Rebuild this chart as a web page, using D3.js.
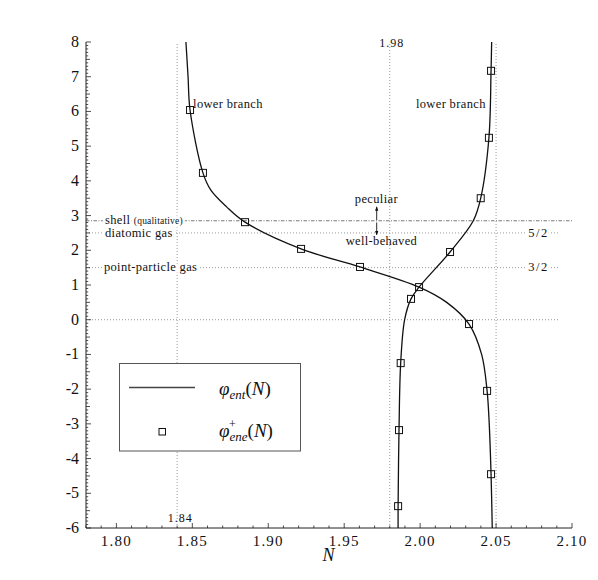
<!DOCTYPE html>
<html><head><meta charset="utf-8">
<script src="https://cdn.jsdelivr.net/npm/d3@7"></script>
<style>
body{margin:0;background:#fff;}
svg{display:block;}
</style></head>
<body><svg id="c" width="598" height="580"></svg>
<script>
// ---- data ----
const xDomain = [1.78, 2.10];
const yDomain = [-6, 8];
const xTicks = [1.80, 1.85, 1.90, 1.95, 2.00, 2.05, 2.10];
const yTicks = [-6, -5, -4, -3, -2, -1, 0, 1, 2, 3, 4, 5, 6, 7, 8];

// phi_ent(N), branch through the upper-left
const entA_N   = [1.8458, 1.8472, 1.8485, 1.8570, 1.8621, 1.8726, 1.8847, 1.9216, 1.9604, 1.9993, 2.0175, 2.0322, 2.0405, 2.0441, 2.0455, 2.0467, 2.0475];
const entA_phi = [8, 7, 6.04, 4.23, 3.74, 3.25, 2.81, 2.04, 1.52, 0.94, 0.50, -0.125, -1.0, -2.05, -3.0, -4.45, -6];
// phi_ent(N), branch through the lower-middle
const entB_N   = [1.9855, 1.9855, 1.9861, 1.9872, 1.9898, 1.9940, 1.9993, 2.0197, 2.0350, 2.0399, 2.0453, 2.0467, 2.0471];
const entB_phi = [-6, -5.37, -3.18, -1.25, 0, 0.60, 0.94, 1.95, 2.85, 3.50, 5.24, 7.17, 8];

// phi_ene^+(N) markers
const ene_N   = [1.8485, 1.8570, 1.8847, 1.9216, 1.9604, 1.9993, 2.0322, 2.0441, 2.0467, 1.9855, 1.9861, 1.9872, 1.9940, 2.0197, 2.0399, 2.0453, 2.0467];
const ene_phi = [6.04, 4.23, 2.81, 2.04, 1.52, 0.94, -0.125, -2.05, -4.45, -5.37, -3.18, -1.25, 0.60, 1.95, 3.50, 5.24, 7.17];

// reference lines
const vRefN = [1.84, 1.98, 2.05];
const hRef = [
  {phi: 0,    n0: 1.78, n1: 2.0915, style: "dot"},
  {phi: 1.5,  n0: 1.78, n1: 2.0920, style: "dot"},
  {phi: 2.5,  n0: 1.78, n1: 2.0920, style: "dot"},
  {phi: 2.85, n0: 1.78, n1: 2.10,   style: "dashdot"}
];
const notes = [
  {n: 1.8505, phi: 6.1,  text: "lower branch", anchor: "start"},
  {n: 2.0432, phi: 6.1,  text: "lower branch", anchor: "end"},
  {n: 1.9712, phi: 3.37, text: "peculiar", anchor: "middle"},
  {n: 1.9745, phi: 2.14, text: "well-behaved", anchor: "middle"},
  {n: 1.7925, phi: 2.50, text: "diatomic gas", anchor: "start", mid: true},
  {n: 1.7918, phi: 1.50, text: "point-particle gas", anchor: "start", mid: true},
  {n: 2.0780, phi: 2.50, text: "5/2", anchor: "middle", mid: true},
  {n: 2.0780, phi: 1.50, text: "3/2", anchor: "middle", mid: true}
];

// ---- layout ----
const FF = "'Liberation Serif','DejaVu Serif',serif";
const svg = d3.select("#c");
const x = d3.scaleLinear().domain(xDomain).range([86, 572]);
const y = d3.scaleLinear().domain(yDomain).range([528, 42]);
const txt = (sel) => sel.append("text").style("font-family", FF).attr("fill", "#111");

const gRef = svg.append("g");
vRefN.forEach(n => {
  gRef.append("line").attr("x1", x(n)).attr("x2", x(n)).attr("y1", y(-6)).attr("y2", y(8))
    .attr("stroke", "#999").attr("stroke-width", 1).attr("stroke-dasharray", "1,2");
});
hRef.forEach(h => {
  gRef.append("line").attr("x1", x(h.n0)).attr("x2", x(h.n1)).attr("y1", y(h.phi)).attr("y2", y(h.phi))
    .attr("stroke", h.style === "dot" ? "#999" : "#777").attr("stroke-width", 1)
    .attr("stroke-dasharray", h.style === "dot" ? "1,2" : "3.5,1.5,1,1.5");
});

// axes
const minorY = d3.range(-60, 81).map(v => v / 10);
const minorX = d3.range(178, 211).map(v => v / 100);
const gAx = svg.append("g").attr("stroke", "#222").attr("stroke-width", 1);
gAx.append("line").attr("x1", x(1.78)).attr("x2", x(1.78)).attr("y1", y(-6)).attr("y2", y(8));
gAx.append("line").attr("x1", x(1.78)).attr("x2", x(2.10)).attr("y1", y(-6)).attr("y2", y(-6));
minorY.forEach(v => {
  const r = Math.round(v * 10);
  const len = r % 10 === 0 ? 5 : (r % 5 === 0 ? 4 : 2.2);
  gAx.append("line").attr("x1", x(1.78)).attr("x2", x(1.78) + len).attr("y1", y(v)).attr("y2", y(v)).attr("stroke-width", 0.8);
});
minorX.forEach(v => {
  const r = Math.round(v * 100);
  const len = r % 5 === 0 ? 5 : 2.5;
  gAx.append("line").attr("x1", x(v)).attr("x2", x(v)).attr("y1", y(-6)).attr("y2", y(-6) - len).attr("stroke-width", 0.8);
});
const fmtY = d => String(d).replace("−", "-");
yTicks.forEach(t => {
  txt(svg).attr("x", x(1.78) - 7).attr("y", y(t) + 5).attr("text-anchor", "end")
    .attr("font-size", 16).text(fmtY(t));
});
xTicks.forEach(t => {
  txt(svg).attr("x", x(t)).attr("y", y(-6) + 18).attr("text-anchor", "middle")
    .attr("font-size", 15).attr("letter-spacing", 1.2).text(d3.format(".2f")(t));
});
txt(svg).attr("x", x(1.9397)).attr("y", 561).attr("text-anchor", "middle")
  .attr("font-size", 18).attr("font-style", "italic").text("N");

// reference labels
txt(svg).attr("x", x(1.98) + 2).attr("y", y(8) + 5).attr("text-anchor", "middle")
  .attr("font-size", 12).attr("letter-spacing", 1).text("1.98");
txt(svg).attr("x", x(1.84) + 3).attr("y", y(-6) - 6).attr("text-anchor", "middle")
  .attr("font-size", 12).attr("letter-spacing", 1).text("1.84");

// curves
const line = d3.line().x(d => x(d[0])).y(d => y(d[1])).curve(d3.curveCatmullRom.alpha(0.5));
[[entA_N, entA_phi], [entB_N, entB_phi]].forEach(([ns, ps]) => {
  svg.append("path").attr("d", line(d3.zip(ns, ps))).attr("fill", "none")
    .attr("stroke", "#111").attr("stroke-width", 1.3);
});

// markers
const ms = 7;
svg.append("g").selectAll("rect").data(d3.zip(ene_N, ene_phi)).join("rect")
  .attr("x", d => x(d[0]) - ms / 2).attr("y", d => y(d[1]) - ms / 2)
  .attr("width", ms).attr("height", ms).attr("fill", "none").attr("stroke", "#111").attr("stroke-width", 1);

// notes
notes.forEach(nt => {
  txt(svg).attr("x", x(nt.n)).attr("y", y(nt.phi) + (nt.mid ? 3.8 : 0))
    .attr("text-anchor", nt.anchor).attr("font-size", 12.5)
    .attr("stroke", "#fff").attr("stroke-width", nt.mid ? 5 : 0).attr("paint-order", "stroke")
    .attr("letter-spacing", nt.text.includes("/") ? 1.5 : 0.35)
    .text(nt.text);
});
// shell label
const sh = txt(svg).attr("x", x(1.7925)).attr("y", y(2.85) + 2.8).attr("font-size", 12.5)
  .attr("letter-spacing", 0.35)
  .attr("stroke", "#fff").attr("stroke-width", 5).attr("paint-order", "stroke");
sh.append("tspan").text("shell ");
sh.append("tspan").attr("font-size", 9.5).attr("letter-spacing", 0.2).text("(qualitative)");

// arrows
svg.append("defs").append("marker").attr("id", "ah").attr("viewBox", "0 0 6 6").attr("refX", 5).attr("refY", 3)
  .attr("markerWidth", 5).attr("markerHeight", 5).attr("orient", "auto")
  .append("path").attr("d", "M0,0.8L6,3L0,5.2Z").attr("fill", "#111");
svg.append("line").attr("x1", x(1.9714)).attr("x2", x(1.9714)).attr("y1", y(2.87)).attr("y2", y(3.25))
  .attr("stroke", "#111").attr("stroke-width", 0.9).attr("marker-end", "url(#ah)");
svg.append("line").attr("x1", x(1.9714)).attr("x2", x(1.9714)).attr("y1", y(2.80)).attr("y2", y(2.45))
  .attr("stroke", "#111").attr("stroke-width", 0.9).attr("marker-end", "url(#ah)");

// legend
const lg = svg.append("g");
lg.append("rect").attr("x", 119.5).attr("y", 363.5).attr("width", 181).attr("height", 87.5)
  .attr("fill", "#fff").attr("stroke", "#555").attr("stroke-width", 1);
lg.append("line").attr("x1", 129).attr("x2", 195).attr("y1", 387.5).attr("y2", 387.5)
  .attr("stroke", "#444").attr("stroke-width", 1.5);
lg.append("rect").attr("x", 159).attr("y", 428.5).attr("width", 6.5).attr("height", 6.5)
  .attr("fill", "none").attr("stroke", "#111").attr("stroke-width", 1);
const t1 = txt(lg).attr("x", 219).attr("y", 395).attr("font-size", 19);
t1.append("tspan").attr("font-style", "italic").text("φ");
t1.append("tspan").attr("font-style", "italic").attr("font-size", 13).attr("dy", 4).text("ent");
t1.append("tspan").attr("dy", -4).text("(");
t1.append("tspan").attr("font-style", "italic").text("N");
t1.append("tspan").text(")");
const t2 = txt(lg).attr("x", 219).attr("y", 437).attr("font-size", 19);
t2.append("tspan").attr("font-style", "italic").text("φ");
t2.append("tspan").attr("font-style", "italic").attr("font-size", 13).attr("dy", 4).text("ene");
t2.append("tspan").attr("dy", -4).text("(");
t2.append("tspan").attr("font-style", "italic").text("N");
t2.append("tspan").text(")");
// superscript + placed above the subscript
txt(lg).attr("x", 229).attr("y", 428).attr("font-size", 12).text("+");
</script></body></html>
